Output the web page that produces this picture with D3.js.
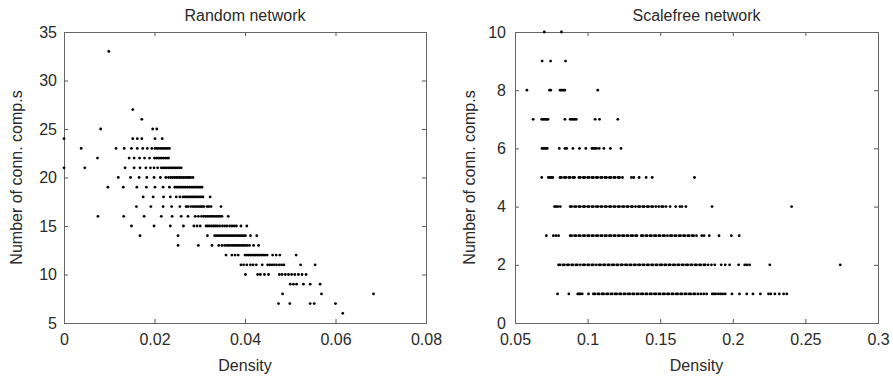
<!DOCTYPE html>
<html lang="en">
<head>
<meta charset="utf-8">
<title>Connected components vs density</title>
<script src="https://d3js.org/d3.v7.min.js"></script>
<style>
  body { margin: 0; background: #fff; }
  svg text { font-family: "Liberation Sans", Arial, sans-serif; fill: #2a2a2a; }
  .tick line { stroke: #555; }
  .tick text { font-size: 16px; }
  .frame { fill: none; stroke: #666; stroke-width: 1; }
  .title, .label { font-size: 16px; }
</style>
</head>
<body>
<div id="main"></div>
<script>
// [number of connected components, densities]
var randomRows = [
  [33, [0.0099]],
  [27, [0.0152]],
  [26, [0.0172]],
  [25, [0.0081, 0.0196, 0.0205]],
  [24, [0.0000, 0.0152, 0.0162, 0.0172, 0.0201, 0.0217]],
  [23, [0.0038, 0.0115, 0.0133, 0.0149, 0.0162, 0.0174, 0.0184, 0.0194, 0.0201, 0.0205, 0.0209, 0.0213, 0.0217, 0.0221, 0.0225, 0.0229, 0.0233]],
  [22, [0.0074, 0.0144, 0.0155, 0.0167, 0.0178, 0.0189, 0.0200, 0.0204, 0.0208, 0.0212, 0.0216, 0.0220, 0.0224, 0.0228, 0.0231]],
  [21, [0.0000, 0.0046, 0.0135, 0.0155, 0.0168, 0.0181, 0.0191, 0.0199, 0.0207, 0.0215, 0.0219, 0.0223, 0.0227, 0.0231, 0.0235, 0.0239, 0.0243, 0.0247, 0.0251, 0.0255, 0.0259]],
  [20, [0.0120, 0.0147, 0.0166, 0.0183, 0.0199, 0.0213, 0.0225, 0.0231, 0.0236, 0.0240, 0.0244, 0.0248, 0.0252, 0.0256, 0.0260, 0.0264, 0.0268, 0.0272, 0.0276, 0.0280, 0.0285]],
  [19, [0.0097, 0.0131, 0.0161, 0.0182, 0.0201, 0.0219, 0.0233, 0.0245, 0.0249, 0.0253, 0.0257, 0.0261, 0.0265, 0.0269, 0.0273, 0.0277, 0.0281, 0.0285, 0.0289, 0.0293, 0.0297, 0.0301, 0.0305]],
  [18, [0.0175, 0.0197, 0.0220, 0.0235, 0.0248, 0.0256, 0.0263, 0.0267, 0.0271, 0.0275, 0.0279, 0.0283, 0.0287, 0.0291, 0.0295, 0.0299, 0.0303, 0.0307, 0.0323]],
  [17, [0.0160, 0.0192, 0.0219, 0.0238, 0.0256, 0.0270, 0.0274, 0.0280, 0.0285, 0.0289, 0.0293, 0.0297, 0.0301, 0.0305, 0.0309, 0.0316, 0.0320, 0.0325, 0.0347]],
  [16, [0.0075, 0.0132, 0.0177, 0.0215, 0.0239, 0.0259, 0.0274, 0.0290, 0.0297, 0.0304, 0.0309, 0.0313, 0.0317, 0.0321, 0.0325, 0.0329, 0.0333, 0.0337, 0.0341, 0.0345, 0.0349, 0.0363]],
  [15, [0.0149, 0.0199, 0.0235, 0.0264, 0.0287, 0.0294, 0.0301, 0.0314, 0.0318, 0.0322, 0.0327, 0.0331, 0.0335, 0.0339, 0.0344, 0.0350, 0.0355, 0.0360, 0.0366, 0.0371, 0.0376, 0.0381, 0.0391, 0.0404]],
  [14, [0.0168, 0.0252, 0.0317, 0.0333, 0.0337, 0.0341, 0.0345, 0.0349, 0.0353, 0.0357, 0.0361, 0.0365, 0.0369, 0.0373, 0.0377, 0.0381, 0.0385, 0.0389, 0.0393, 0.0397, 0.0401, 0.0412, 0.0426]],
  [13, [0.0252, 0.0297, 0.0327, 0.0342, 0.0349, 0.0355, 0.0360, 0.0364, 0.0368, 0.0372, 0.0376, 0.0380, 0.0384, 0.0388, 0.0392, 0.0396, 0.0400, 0.0405, 0.0410, 0.0419, 0.0430]],
  [12, [0.0358, 0.0371, 0.0378, 0.0385, 0.0400, 0.0404, 0.0408, 0.0412, 0.0416, 0.0420, 0.0424, 0.0428, 0.0432, 0.0436, 0.0440, 0.0444, 0.0449, 0.0461, 0.0469, 0.0477, 0.0513]],
  [11, [0.0391, 0.0397, 0.0404, 0.0412, 0.0418, 0.0425, 0.0438, 0.0450, 0.0455, 0.0460, 0.0465, 0.0470, 0.0476, 0.0481, 0.0486, 0.0523, 0.0555]],
  [10, [0.0401, 0.0428, 0.0434, 0.0443, 0.0452, 0.0476, 0.0482, 0.0489, 0.0496, 0.0503, 0.0510, 0.0518, 0.0526, 0.0535]],
  [9,  [0.0500, 0.0507, 0.0514, 0.0529, 0.0544, 0.0566]],
  [8,  [0.0483, 0.0569, 0.0684]],
  [7,  [0.0474, 0.0499, 0.0544, 0.0553, 0.0600]],
  [6,  [0.0616]]
];

var scalefreeRows = [
  [10, [0.0702, 0.0820]],
  [9,  [0.0687, 0.0745, 0.0848]],
  [8,  [0.0582, 0.0738, 0.0746, 0.0811, 0.0822, 0.0833, 0.0843, 0.1070]],
  [7,  [0.0625, 0.0684, 0.0693, 0.0702, 0.0711, 0.0720, 0.0727, 0.0844, 0.0880, 0.0892, 0.0902, 0.0912, 0.0922, 0.1052, 0.1082, 0.1208]],
  [6,  [0.0686, 0.0695, 0.0704, 0.0713, 0.0722, 0.0805, 0.0844, 0.0856, 0.0899, 0.0944, 0.0988, 0.1030, 0.1040, 0.1050, 0.1062, 0.1080, 0.1112, 0.1157, 0.1230]],
  [5,  [0.0684, 0.0730, 0.0740, 0.0750, 0.0760, 0.081, 0.082, 0.084, 0.085, 0.087, 0.088, 0.090, 0.091, 0.094, 0.095, 0.097, 0.098, 0.100, 0.101, 0.103, 0.104,
        0.106, 0.107, 0.109, 0.110, 0.112, 0.113, 0.115, 0.116, 0.118, 0.119, 0.121, 0.122, 0.124, 0.1302, 0.1318, 0.1355, 0.1403, 0.1445, 0.1736]],
  [4,  [0.0772, 0.0783, 0.0796, 0.0812, 0.088, 0.089, 0.091, 0.092, 0.094, 0.095, 0.097, 0.098, 0.100, 0.101, 0.103, 0.104, 0.106, 0.107, 0.109, 0.110,
        0.112, 0.113, 0.115, 0.116, 0.118, 0.119, 0.121, 0.122, 0.124, 0.125, 0.127, 0.128, 0.130, 0.131, 0.133, 0.135, 0.136, 0.138, 0.139, 0.141,
        0.142, 0.144, 0.145, 0.147, 0.149, 0.151, 0.152, 0.154, 0.1568, 0.1607, 0.1636, 0.1650, 0.1677, 0.1857, 0.2405]],
  [3,  [0.0716, 0.0764, 0.0782, 0.0800, 0.088, 0.089, 0.091, 0.092, 0.094, 0.095, 0.097, 0.098, 0.100, 0.101, 0.103, 0.104, 0.106, 0.107, 0.109, 0.110,
        0.112, 0.113, 0.115, 0.116, 0.118, 0.119, 0.121, 0.122, 0.124, 0.125, 0.127, 0.128, 0.130, 0.131, 0.133, 0.134, 0.137, 0.138, 0.140, 0.141,
        0.143, 0.144, 0.146, 0.147, 0.149, 0.150, 0.152, 0.153, 0.155, 0.157, 0.158, 0.160, 0.161, 0.163, 0.164, 0.166, 0.167, 0.169, 0.170, 0.172,
        0.173, 0.175, 0.1786, 0.1802, 0.1838, 0.1905, 0.1990, 0.2044]],
  [2,  [0.080, 0.081, 0.083, 0.084, 0.086, 0.087, 0.089, 0.090, 0.092, 0.093, 0.095, 0.097, 0.098, 0.100, 0.101, 0.103, 0.104, 0.106, 0.108, 0.109,
        0.111, 0.112, 0.114, 0.115, 0.117, 0.118, 0.120, 0.121, 0.123, 0.124, 0.126, 0.127, 0.129, 0.130, 0.132, 0.133, 0.135, 0.136, 0.138, 0.139,
        0.141, 0.142, 0.144, 0.145, 0.147, 0.148, 0.150, 0.151, 0.153, 0.154, 0.156, 0.157, 0.159, 0.160, 0.162, 0.163, 0.165, 0.166, 0.168, 0.169,
        0.171, 0.172, 0.174, 0.175, 0.177, 0.178, 0.180, 0.181, 0.183, 0.1853, 0.1876, 0.1920, 0.1948, 0.1978, 0.2040, 0.2082, 0.2098, 0.2116, 0.2255, 0.2740]],
  [1,  [0.0793, 0.0871, 0.0932, 0.0941, 0.0950, 0.0963, 0.1006, 0.104, 0.105, 0.107, 0.108, 0.110, 0.111, 0.113, 0.114, 0.116, 0.117, 0.119, 0.120, 0.122,
        0.123, 0.125, 0.126, 0.128, 0.129, 0.131, 0.132, 0.134, 0.135, 0.137, 0.138, 0.140, 0.141, 0.143, 0.144, 0.146, 0.147, 0.149, 0.150, 0.152,
        0.153, 0.155, 0.156, 0.158, 0.159, 0.161, 0.162, 0.164, 0.165, 0.167, 0.168, 0.170, 0.171, 0.173, 0.174, 0.176, 0.178, 0.180, 0.182,
        0.1858, 0.1870, 0.1882, 0.1900, 0.1915, 0.1930, 0.1948, 0.1994, 0.2046, 0.2096, 0.2139, 0.2190, 0.2246, 0.2262, 0.2290, 0.2320, 0.2350, 0.2372]]
];

var randomXTicks = [0, 0.02, 0.04, 0.06, 0.08];
var randomYTicks = [5, 10, 15, 20, 25, 30, 35];
var scalefreeXTicks = [0.05, 0.1, 0.15, 0.2, 0.25, 0.3];
var scalefreeYTicks = [0, 2, 4, 6, 8, 10];
var titles = ["Random network", "Scalefree network"];
var xLabel = "Density";
var yLabel = "Number of conn. comp.s";

var width = 893, height = 379;
var plotTop = 32, plotBottom = 323;

var svg = d3.select("#main").append("svg")
    .attr("width", width)
    .attr("height", height);

var fmt = function(d) { return String(+d.toFixed(2)); };

function panel(rows, xTicks, yTicks, title, left, right, yPad, yLabelX) {
  var x = d3.scaleLinear().domain(d3.extent(xTicks)).range([left, right]);
  var y = d3.scaleLinear().domain(d3.extent(yTicks)).range([plotBottom, plotTop]);
  var g = svg.append("g");

  // inward ticks on all four sides, labels only bottom/left
  g.append("g").attr("transform", "translate(0," + plotBottom + ")")
    .call(d3.axisBottom(x).tickValues(xTicks).tickFormat(fmt).tickSizeInner(-4).tickSizeOuter(0).tickPadding(11));
  g.append("g").attr("transform", "translate(0," + plotTop + ")")
    .call(d3.axisTop(x).tickValues(xTicks).tickFormat("").tickSizeInner(-4).tickSizeOuter(0));
  g.append("g").attr("transform", "translate(" + left + ",0)")
    .call(d3.axisLeft(y).tickValues(yTicks).tickFormat(fmt).tickSizeInner(-4).tickSizeOuter(0).tickPadding(yPad));
  g.append("g").attr("transform", "translate(" + right + ",0)")
    .call(d3.axisRight(y).tickValues(yTicks).tickFormat("").tickSizeInner(-4).tickSizeOuter(0));
  g.selectAll(".domain").remove();

  g.append("rect").attr("class", "frame")
    .attr("x", left + 0.5).attr("y", plotTop + 0.5)
    .attr("width", right - left).attr("height", plotBottom - plotTop);

  var pts = [];
  rows.forEach(function(r) { r[1].forEach(function(d) { pts.push([d, r[0]]); }); });
  g.append("g").selectAll("circle")
    .data(pts)
    .enter().append("circle")
    .attr("cx", function(d) { return x(d[0]); })
    .attr("cy", function(d) { return y(d[1]); })
    .attr("r", 1.4)
    .attr("fill", "#000");

  g.append("text").attr("class", "title")
    .attr("x", (left + right) / 2).attr("y", 21)
    .attr("text-anchor", "middle")
    .text(title);

  g.append("text").attr("class", "label")
    .attr("x", (left + right) / 2).attr("y", 371)
    .attr("text-anchor", "middle")
    .text(xLabel);

  g.append("text").attr("class", "label")
    .attr("transform", "translate(" + yLabelX + "," + (plotTop + plotBottom) / 2 + ") rotate(-90)")
    .attr("text-anchor", "middle")
    .text(yLabel);
}

panel(randomRows, randomXTicks, randomYTicks, titles[0], 64, 426, 7, 22);
panel(scalefreeRows, scalefreeXTicks, scalefreeYTicks, titles[1], 515, 878, 9, 475);
</script>
</body>
</html>
